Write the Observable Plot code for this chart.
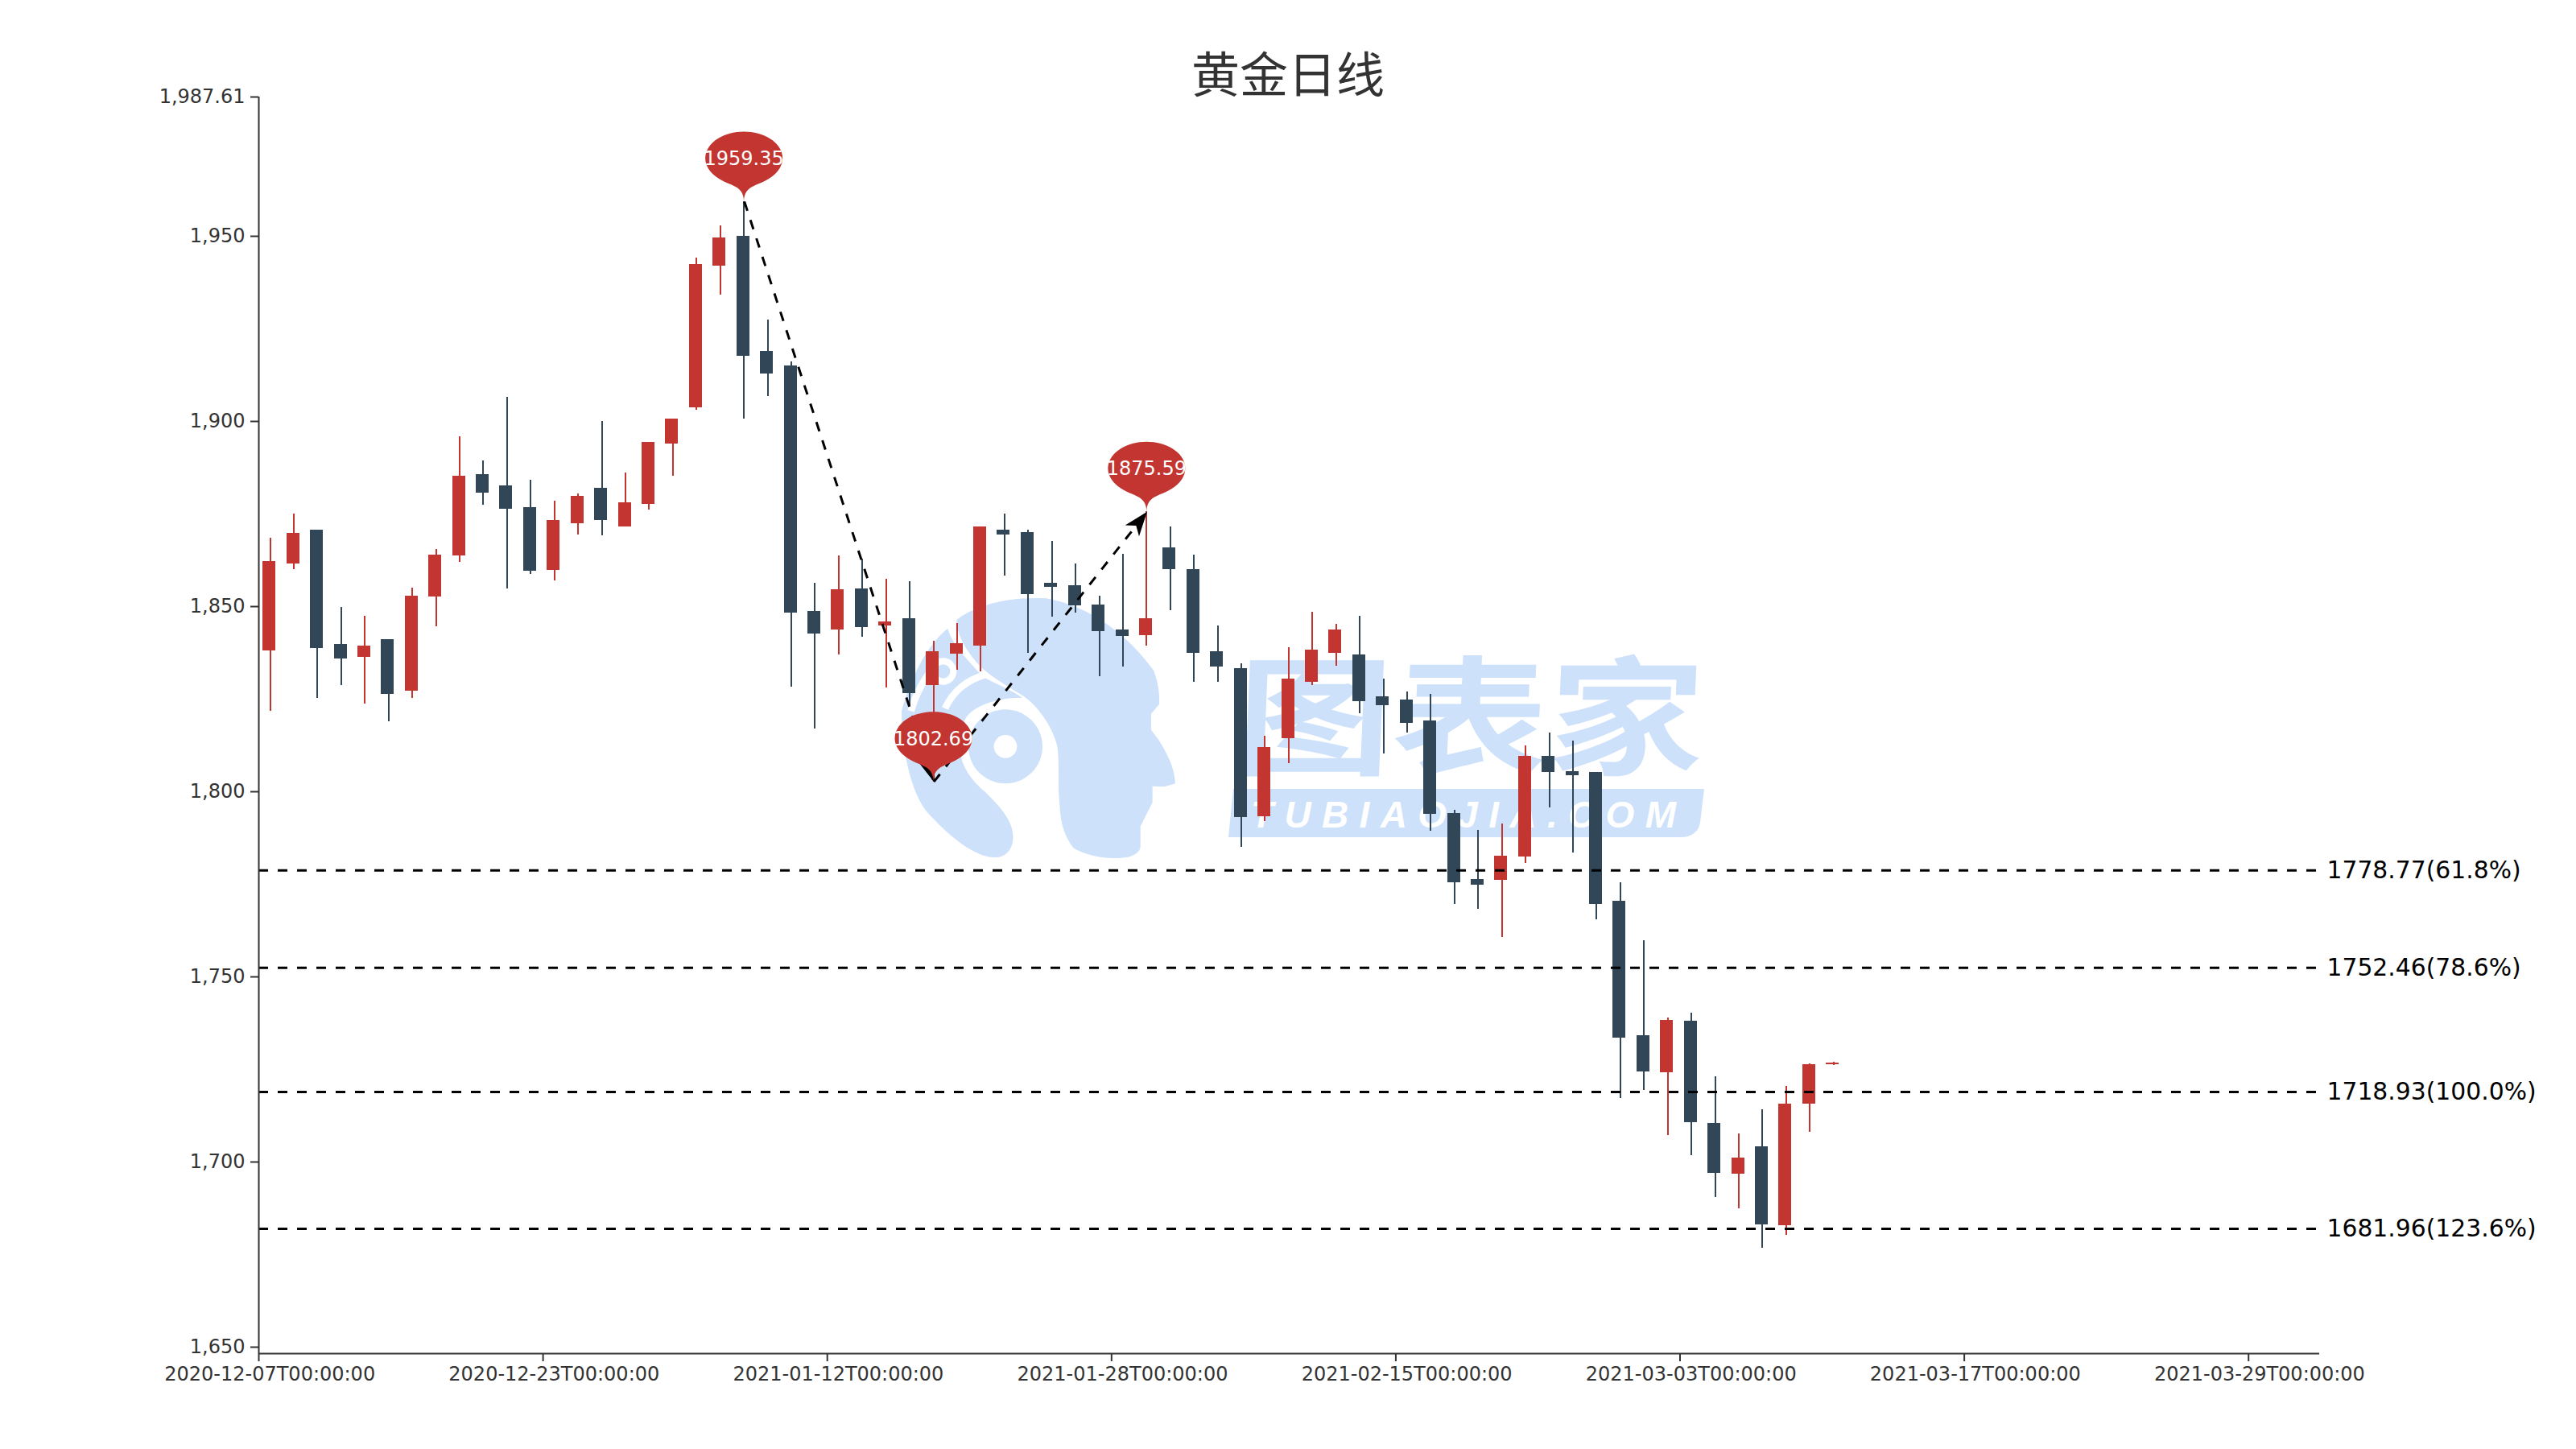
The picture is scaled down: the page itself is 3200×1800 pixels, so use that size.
<!DOCTYPE html>
<html><head><meta charset="utf-8">
<script src="https://cdn.jsdelivr.net/npm/d3@7"></script>
<script src="https://cdn.jsdelivr.net/npm/@observablehq/plot@0.6"></script>
<style>
html,body{margin:0;padding:0;background:#fff;}
#wrap{position:relative;width:3200px;height:1800px;overflow:hidden;}
#mark{position:absolute;left:0;top:0;}
#title{position:relative;height:100px;text-align:center;font:60px/178px "Noto Sans CJK SC",sans-serif;color:#333;}
#chart{position:relative;}
</style></head><body>
<div id="wrap">
<svg id="mark" width="3200" height="1800" viewBox="0 0 3200 1800">
 <g fill="#cde1fa">
  <g transform="translate(1100,720) scale(0.3333)">
   <path d="M265,150 C340,90 480,62 600,70 C760,100 900,200 1000,340 C1018,390 1022,430 1020,465 L990,500 L990,560 L1020,600 C1050,650 1078,700 1080,760 L1040,772 L995,770 L995,830 L950,920 L950,1000 C940,1030 900,1040 850,1038 C790,1038 730,1020 700,1000 C670,960 652,910 650,850 C640,760 650,680 640,620 C620,540 560,460 500,425 C450,395 400,365 360,330 C310,280 265,210 265,150 Z"/>
   <path d="M232,182 C170,230 100,340 60,490 C60,620 90,780 150,860 C220,940 320,1030 400,1035 C450,1040 480,1000 475,950 C470,890 420,840 370,790 C320,750 280,690 280,640 L290,540 C300,480 400,440 510,440 C450,400 400,385 360,360 C320,310 250,250 232,182 Z"/>
   <g fill="none" stroke="#fff" stroke-width="26">
    <path d="M95,490 C115,420 150,360 190,315"/>
    <path d="M222,480 C250,420 300,375 370,355"/>
   </g>
   <circle cx="215" cy="342" r="50" fill="#fff"/>
   <circle cx="215" cy="342" r="26"/>
   <circle cx="447" cy="622" r="165" fill="#fff"/>
   <circle cx="447" cy="622" r="138"/>
   <circle cx="447" cy="622" r="43" fill="#fff"/>
  </g>
  <text transform="translate(1824,950) scale(1.21,1) skewX(-2)" text-anchor="middle" font-family="Noto Sans CJK SC" font-weight="700" font-size="160">图表家</text>
  <path d="M1532,980 L2117,980 L2112,1022 C2110,1034 2100,1040 2088,1040 L1526,1040 Z"/>
 </g>
 <text x="1554" y="1028" fill="#fff" font-family="Liberation Sans" font-weight="700" font-style="italic" font-size="46" textLength="528" lengthAdjust="spacing">TUBIAOJIA.COM</text>
</svg>
<div id="title">黄金日线</div>
<div id="chart"></div>
</div>
<script>
const opens  = [1838.1,1861.6,1870.6,1839.8,1836.2,1841.1,1827.2,1852.7,1863.7,1885.7,1882.7,1876.8,1859.7,1872.5,1881.9,1871.6,1877.6,1893.9,1903.7,1941.9,1950.0,1918.9,1915.1,1848.7,1843.6,1854.8,1844.7,1846.8,1828.7,1837.1,1839.4,1870.7,1870.0,1856.2,1855.6,1850.5,1843.8,1842.2,1865.9,1860.1,1837.9,1833.3,1793.2,1814.4,1829.5,1837.3,1836.9,1825.7,1824.7,1819.1,1794.1,1776.4,1776.0,1782.4,1809.6,1805.5,1805.2,1770.5,1734.2,1724.2,1738.1,1710.4,1696.8,1704.1,1682.9,1715.7,1726.2];
const closes = [1862.1,1869.8,1838.8,1835.9,1839.4,1826.4,1852.8,1864.0,1885.3,1880.6,1876.2,1859.6,1873.2,1879.7,1873.2,1878.0,1894.3,1900.7,1942.5,1949.5,1917.6,1912.9,1848.3,1842.7,1854.6,1844.4,1845.8,1826.5,1837.9,1840.0,1871.6,1869.3,1853.2,1855.3,1850.3,1843.3,1842.0,1846.7,1860.1,1837.3,1833.6,1793.1,1811.9,1830.4,1838.2,1843.6,1824.3,1823.3,1818.4,1794.0,1775.5,1774.8,1782.5,1809.5,1805.2,1804.3,1769.5,1733.4,1724.4,1738.2,1710.6,1697.0,1701.1,1683.1,1715.7,1726.4,1726.8];
const highs  = [1868.4,1875.1,1870.6,1849.7,1847.5,1841.1,1855.1,1865.5,1895.8,1889.3,1906.6,1884.1,1878.4,1880.4,1900.0,1886.1,1894.3,1900.7,1944.2,1952.9,1959.35,1927.5,1916.0,1856.4,1863.6,1862.9,1857.3,1856.7,1840.6,1845.5,1871.6,1874.9,1870.7,1867.7,1861.6,1852.9,1864.1,1875.59,1871.6,1864.0,1844.8,1834.6,1815.1,1839.0,1848.4,1845.2,1847.4,1830.4,1826.9,1826.3,1795.0,1789.6,1791.3,1812.5,1815.8,1813.8,1805.2,1775.5,1759.7,1738.9,1740.3,1723.1,1707.6,1714.2,1720.5,1726.5,1727.0];
const lows   = [1821.8,1860.1,1825.3,1828.6,1823.8,1819.0,1825.3,1844.5,1861.9,1877.3,1854.8,1858.8,1857.0,1869.4,1869.1,1871.6,1876.0,1885.2,1903.1,1934.1,1900.7,1906.8,1828.2,1817.0,1836.9,1841.8,1828.1,1823.0,1802.69,1832.9,1832.3,1858.3,1837.3,1847.1,1848.2,1831.0,1833.8,1839.4,1849.0,1829.5,1829.5,1784.9,1791.9,1807.6,1828.8,1834.0,1821.1,1810.3,1815.9,1789.4,1769.5,1768.3,1760.6,1780.6,1795.6,1783.4,1765.5,1717.2,1719.4,1707.1,1701.8,1690.5,1687.3,1676.8,1680.2,1708.1,1726.0];

const xTickIndex  = [0,12,24,36,48,60,72,84];
const xTickLabels = ["2020-12-07T00:00:00","2020-12-23T00:00:00","2021-01-12T00:00:00","2021-01-28T00:00:00","2021-02-15T00:00:00","2021-03-03T00:00:00","2021-03-17T00:00:00","2021-03-29T00:00:00"];
const yTicks = [1650,1700,1750,1800,1850,1900,1950,1987.61];
const xBands = 87, yMin = 1648.26, yMax = 1987.61;

const fibValues = [1778.77,1752.46,1718.93,1681.96];
const fibRatios = ["61.8%","78.6%","100.0%","123.6%"];
const swingIndex = [20,28,37];
const swingValue = [1959.35,1802.69,1875.59];

const RED = "#c23531", DARK = "#314656", AXIS = "#333";
const WIDTH = 3200, HEIGHT = 1700, ML = 321, MR = 319, MT = 20, MB = 119;
const bodyHalf = 0.272, bodyShift = 0.45, wickShift = 0.48;

const candles = opens.map((o,i)=>({i,open:o,close:closes[i],high:highs[i],low:lows[i],color:closes[i]>o?RED:DARK}));
const fibs = fibValues.map((v,k)=>({v,label:`${v.toFixed(2)}(${fibRatios[k]})`}));
const swings = swingIndex.map((i,k)=>({i,v:swingValue[k]}));
const legs = [[0,1],[1,2]].map(([a,b])=>{
  const A=swings[a],B=swings[b];
  const dx=(B.i-A.i)*(WIDTH-ML-MR)/xBands, dy=(B.v-A.v)*(HEIGHT-MT-MB)/(yMax-yMin);
  return {i1:A.i,v1:A.v,i2:B.i,v2:B.v,angle:Math.atan2(dx,dy)*180/Math.PI};
});

// pin outline (ECharts "pin"), tip at the anchor point
const pinSymbol = {draw(ctx){
  const rx=48, ry=33, d=54;
  const a=Math.asin(ry/d);
  const tx=rx*Math.cos(a), ty=-d+ry*Math.sin(a);
  ctx.moveTo(-tx,ty);
  for(let k=1;k<=48;k++){
    const t=Math.PI-a+(Math.PI+2*a)*k/48;
    ctx.lineTo(rx*Math.cos(t),-d+ry*Math.sin(t));
  }
  ctx.bezierCurveTo(tx-rx*0.6*Math.sin(a),ty+ry*0.6*Math.cos(a),0,-ry*0.7,0,0);
  ctx.bezierCurveTo(0,-ry*0.7,-tx+rx*0.6*Math.sin(a),ty+ry*0.6*Math.cos(a),-tx,ty);
  ctx.closePath();
}};
const arrowSymbol = {draw(ctx){
  ctx.moveTo(0,0);ctx.lineTo(11,30);ctx.lineTo(0,22);ctx.lineTo(-11,30);ctx.closePath();
}};

const chart = Plot.plot({
  width:WIDTH,height:HEIGHT,marginLeft:ML,marginRight:MR,marginTop:MT,marginBottom:MB,
  style:{background:"transparent",fontFamily:"DejaVu Sans",overflow:"visible"},
  x:{domain:[0,xBands]},
  y:{domain:[yMin,yMax]},
  color:{type:"identity"},
  marks:[
    Plot.ruleX(candles,{x:d=>d.i+wickShift,y1:"low",y2:"high",stroke:"color",strokeWidth:2,shapeRendering:"crispEdges"}),
    Plot.rect(candles,{x1:d=>d.i+bodyShift-bodyHalf,x2:d=>d.i+bodyShift+bodyHalf,y1:"open",y2:"close",fill:"color",shapeRendering:"crispEdges"}),
    Plot.ruleY(fibs,{y:"v",stroke:"#000",strokeWidth:3,strokeDasharray:"12 12"}),
    Plot.text(fibs,{x:()=>xBands,y:"v",text:"label",dx:9,textAnchor:"start",fill:"#000",fontSize:29.8}),
    Plot.link(legs,{x1:d=>d.i1+0.5,y1:"v1",x2:d=>d.i2+0.5,y2:"v2",stroke:"#000",strokeWidth:3,strokeDasharray:"12 12"}),
    Plot.dot(legs,{x:d=>d.i2+0.5,y:"v2",symbol:arrowSymbol,rotate:"angle",fill:"#000",stroke:"none",r:10}),
    Plot.dot(swings,{x:d=>d.i+0.48,y:"v",symbol:pinSymbol,fill:RED,stroke:"none",r:10}),
    Plot.text(swings,{x:d=>d.i+0.48,y:"v",text:d=>d.v.toFixed(2),dy:-53,fill:"#fff",fontSize:24}),
    Plot.ruleX([0],{stroke:AXIS,strokeWidth:2}),
    Plot.ruleY([yMin],{stroke:AXIS,strokeWidth:2}),
    Plot.axisY({ticks:yTicks,tickFormat:d3.format(","),label:null,tickSize:10,tickPadding:7,stroke:AXIS,strokeWidth:2,fill:AXIS,fontSize:24}),
    Plot.axisX({ticks:xTickIndex,label:null,tickSize:10,stroke:AXIS,strokeWidth:2,fill:"none"}),
    Plot.axisX({ticks:xTickIndex,tickFormat:i=>xTickLabels[i/12],label:null,tickSize:0,tickPadding:16,dx:13.7,stroke:"none",fill:AXIS,fontSize:24})
  ]
});
document.getElementById("chart").appendChild(chart);
</script>
</body></html>
